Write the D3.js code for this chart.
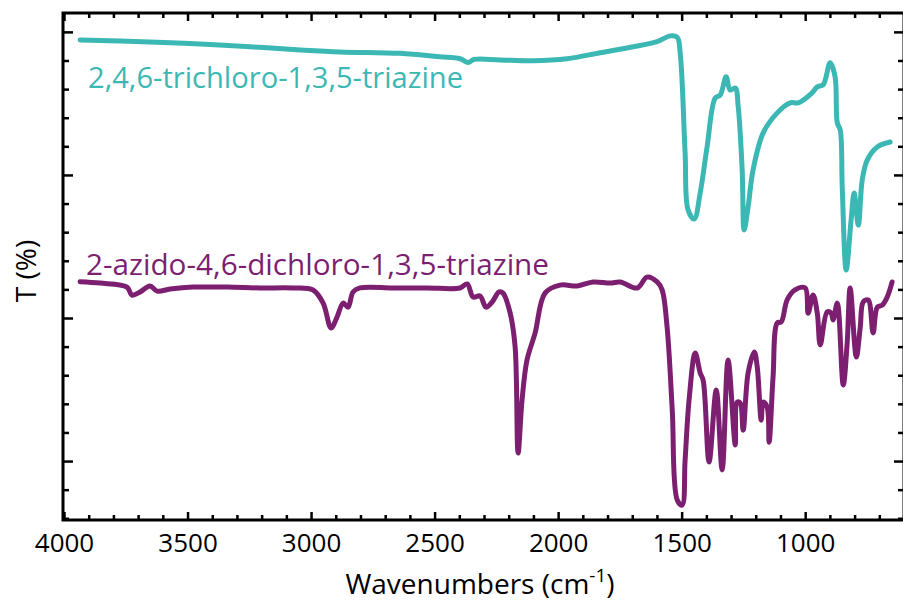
<!DOCTYPE html>
<html>
<head>
<meta charset="utf-8">
<script src="https://cdn.jsdelivr.net/npm/d3@7/dist/d3.min.js"></script>
<style>
  html, body { margin: 0; padding: 0; background: #fff; }
  svg { display: block; }
  text { font-family: "Open Sans", "Noto Sans", sans-serif; }
</style>
</head>
<body>
<svg id="chart" width="903" height="607"></svg>
<script>
// FT-IR spectra: wavenumber (cm-1) and offset transmittance
const trichloroWavenumber = [3935, 3652, 3449, 3247, 3044, 2883, 2640, 2478, 2397, 2364, 2340, 2235, 2101, 1964, 1830, 1696, 1599, 1547, 1518, 1506, 1486, 1474, 1449, 1425, 1397, 1364, 1344, 1320, 1304, 1283, 1271, 1255, 1247, 1231, 1211, 1170, 1113, 1061, 1028, 972, 951, 927, 899, 879, 870, 858, 850, 834, 814, 802, 785, 769, 749, 708, 656];
const trichloroT = [167.2, 166.5, 165.8, 164.8, 163.7, 163.0, 162.5, 161.3, 160.6, 159.3, 160.4, 160.2, 159.9, 160.6, 162.7, 164.8, 166.6, 168.6, 168.1, 162.7, 127.7, 107.8, 104.6, 113.7, 129.8, 146.9, 147.9, 154.3, 149.7, 150.4, 143.8, 121.7, 100.8, 108.8, 121.7, 134.7, 141.7, 145.2, 145.2, 148.7, 150.8, 151.5, 159.2, 154.3, 138.2, 135.7, 115.8, 86.8, 104.3, 113.7, 102.5, 118.3, 125.2, 129.8, 131.5];

const azidoWavenumber = [3935, 3854, 3745, 3725, 3692, 3652, 3623, 3571, 3478, 3340, 3206, 3073, 2992, 2951, 2919, 2895, 2870, 2850, 2830, 2802, 2668, 2530, 2397, 2368, 2344, 2316, 2292, 2267, 2239, 2223, 2194, 2174, 2162, 2146, 2126, 2093, 2053, 1992, 1923, 1858, 1789, 1749, 1680, 1640, 1599, 1579, 1559, 1538, 1518, 1498, 1486, 1470, 1445, 1425, 1413, 1389, 1360, 1336, 1312, 1283, 1275, 1263, 1251, 1231, 1206, 1194, 1178, 1170, 1154, 1146, 1130, 1113, 1097, 1073, 1041, 1000, 988, 968, 951, 939, 911, 895, 887, 870, 846, 830, 818, 793, 777, 765, 745, 725, 708, 688, 668, 648];
const azidoT = [82.7, 82.2, 80.8, 78.0, 79.1, 81.2, 79.4, 80.1, 80.8, 80.8, 80.5, 80.5, 79.8, 75.2, 66.5, 70.3, 75.2, 73.8, 79.1, 80.5, 80.5, 80.5, 80.5, 81.9, 77.3, 77.7, 73.8, 75.6, 79.1, 78.7, 71.7, 59.9, 22.8, 41.3, 55.3, 64.8, 78.7, 81.5, 81.2, 82.6, 82.2, 82.6, 80.5, 84.3, 82.6, 79.8, 66.9, 37.8, 6.4, 4.6, 20.3, 41.3, 57.8, 50.8, 48.3, 19.7, 44.8, 16.9, 55.3, 25.6, 40.6, 40.3, 30.8, 50.8, 58.1, 52.9, 34.3, 40.6, 38.9, 26.6, 49.4, 68.3, 68.6, 76.3, 79.8, 80.5, 71.7, 78.0, 71.7, 60.6, 72.1, 71.7, 69.3, 75.2, 46.6, 61.3, 80.5, 56.4, 66.9, 75.6, 76.3, 64.8, 73.8, 74.5, 77.3, 82.6];

const seriesNames = ["2,4,6-trichloro-1,3,5-triazine", "2-azido-4,6-dichloro-1,3,5-triazine"];
const seriesColors = ["#3bb8b3", "#7c1f70"];

const xTickLabels = [4000, 3500, 3000, 2500, 2000, 1500, 1000];
const xMinorStep = 100;
const yMajorTicks = [20, 70, 120, 170];
const yMinorStep = 10;

const svg = d3.select("#chart");
const plotLeft = 64, plotRight = 904, plotTop = 13, plotBottom = 520;

const x = d3.scaleLinear().domain([4000, 600]).range([plotLeft, plotRight]);
const y = d3.scaleLinear().domain([-0.6, 176.6]).range([plotBottom, plotTop]);

const series = [
  { name: seriesNames[0], color: seriesColors[0], pts: trichloroWavenumber.map((w, i) => [w, trichloroT[i]]) },
  { name: seriesNames[1], color: seriesColors[1], pts: azidoWavenumber.map((w, i) => [w, azidoT[i]]) }
];

const line = d3.line().x(d => x(d[0])).y(d => y(d[1])).curve(d3.curveCatmullRom.alpha(0.5));

series.forEach(s => {
  svg.append("path")
    .attr("d", line(s.pts))
    .attr("fill", "none")
    .attr("stroke", s.color)
    .attr("stroke-width", 5)
    .attr("stroke-linejoin", "round")
    .attr("stroke-linecap", "round");
});

// tick sets
const xMinor = d3.range(4000, 600, -xMinorStep).filter(v => !xTickLabels.includes(v));
const yMinor = d3.range(0, 177, yMinorStep).filter(v => !yMajorTicks.includes(v));

// axes: ticks point inward on all four sides
const axisBottom = d3.axisBottom(x).tickValues(xTickLabels).tickSize(-8).tickPadding(14).tickFormat(d3.format("d"));
const axisBottomMinor = d3.axisBottom(x).tickValues(xMinor).tickSize(-5).tickFormat("");
const axisTop = d3.axisTop(x).tickValues(xTickLabels).tickSize(-8).tickFormat("");
const axisTopMinor = d3.axisTop(x).tickValues(xMinor).tickSize(-5).tickFormat("");
const axisLeft = d3.axisLeft(y).tickValues(yMajorTicks).tickSize(-10).tickFormat("");
const axisLeftMinor = d3.axisLeft(y).tickValues(yMinor).tickSize(-6).tickFormat("");
const axisRight = d3.axisRight(y).tickValues(yMajorTicks).tickSize(-10).tickFormat("");
const axisRightMinor = d3.axisRight(y).tickValues(yMinor).tickSize(-6).tickFormat("");

function draw(axis, tx, ty) {
  const g = svg.append("g").attr("transform", `translate(${tx},${ty})`).call(axis);
  g.select(".domain").remove();
  g.selectAll(".tick line").attr("stroke", "#000").attr("stroke-width", 2.5);
  g.selectAll(".tick text").attr("fill", "#000").attr("font-size", 26).attr("font-family", "'Open Sans', sans-serif");
  return g;
}
draw(axisBottom, 0, plotBottom);
draw(axisBottomMinor, 0, plotBottom);
draw(axisTop, 0, plotTop);
draw(axisTopMinor, 0, plotTop);
draw(axisLeft, plotLeft - 1, 0);
draw(axisLeftMinor, plotLeft - 1, 0);
draw(axisRight, plotRight, 0);
draw(axisRightMinor, plotRight, 0);

// frame
svg.append("rect")
  .attr("x", plotLeft - 1).attr("y", plotTop)
  .attr("width", plotRight - plotLeft + 1).attr("height", plotBottom - plotTop)
  .attr("fill", "none").attr("stroke", "#000").attr("stroke-width", 3);

// series labels
svg.append("text")
  .attr("x", 88).attr("y", 88)
  .attr("fill", seriesColors[0]).attr("font-size", 30)
  .attr("textLength", 375).attr("lengthAdjust", "spacingAndGlyphs")
  .text(seriesNames[0]);
svg.append("text")
  .attr("x", 86).attr("y", 275)
  .attr("fill", seriesColors[1]).attr("font-size", 30)
  .attr("textLength", 463).attr("lengthAdjust", "spacingAndGlyphs")
  .text(seriesNames[1]);

// axis titles
const xt = svg.append("text")
  .attr("x", 480).attr("y", 594)
  .attr("text-anchor", "middle").attr("font-size", 28).attr("fill", "#000");
xt.append("tspan").text("Wavenumbers (cm");
xt.append("tspan").attr("dy", -12).attr("font-size", 19).text("-1");
xt.append("tspan").attr("dy", 12).text(")");

svg.append("text")
  .attr("transform", "translate(36,271) rotate(-90)")
  .attr("text-anchor", "middle").attr("font-size", 28).attr("fill", "#000")
  .text("T (%)");
</script>
</body>
</html>
